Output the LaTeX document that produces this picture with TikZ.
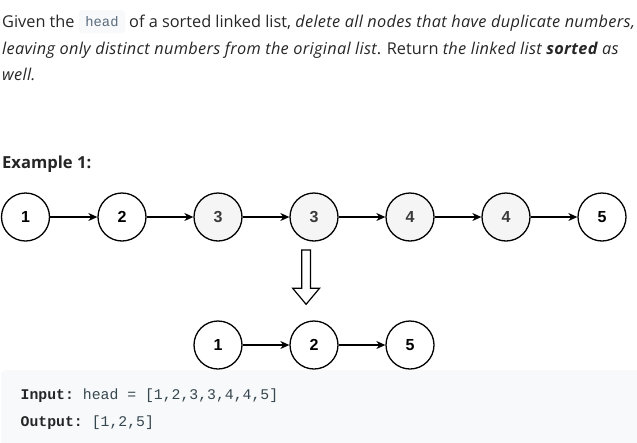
\documentclass[tikz,border=0pt]{standalone}
\usepackage{fontspec}
\setmainfont{Open Sans}[ItalicFeatures={LetterSpace=2}, BoldItalicFeatures={LetterSpace=2}]
\setmonofont{Liberation Mono}
\newfontfamily\numfont{Liberation Sans}
\usetikzlibrary{arrows.meta}
\definecolor{txtcol}{HTML}{262626}
\definecolor{codebg}{HTML}{F7F9FA}
\definecolor{headcol}{HTML}{5A6B7D}
\definecolor{codecol}{HTML}{37474F}
\definecolor{dupfill}{HTML}{F5F5F5}
\definecolor{dupnum}{HTML}{3A3A3A}

\tikzset{
  lnode/.style={draw, shape=circle, minimum size=48pt, inner sep=0pt, line width=1.3pt,
    font=\numfont\bfseries\fontsize{16}{16}\selectfont},
  dupnode/.style={lnode, fill=dupfill, text=dupnum},
  nxt/.style={-{Stealth[length=9pt,width=8pt]}, line width=1.2pt},
  para/.style={anchor=base west, inner sep=0pt, text=txtcol, font=\fontsize{16.3}{18}\selectfont},
  codeline/.style={anchor=base west, inner sep=0pt, text=codecol, font=\ttfamily\fontsize{14.8}{18}\selectfont}
}

\begin{document}
\begin{tikzpicture}[x=1pt, y=-1pt]
    \useasboundingbox (0,0) rectangle (637,442);
    % problem text
    \node(given)[para] at (2,27) {Given the};
    \node(headcode)[fill=codebg, rounded corners=3pt, minimum width=46pt, minimum height=23pt,
        inner sep=0pt, text=headcol, font=\ttfamily\fontsize{13.8}{14}\selectfont] at (102,21.5) {head};
    \node(line1)[para] at (129,27) {of a sorted linked list, \textit{delete all nodes that have duplicate numbers,}};
    \node(line2)[para] at (2,54) {\textit{leaving only distinct numbers from the original list}. Return \textit{the linked list \textbf{sorted} as}};
    \node(line3)[para] at (2,80) {\textit{well.}};
    \node(example)[para, font=\bfseries\fontsize{16.6}{18}\selectfont] at (2,168) {Example 1:};
    % input list
    \node(a1)[lnode] at (25.5,217) {1};
    \node(a2)[lnode] at (122,217) {2};
    \node(a3)[dupnode] at (218,217) {3};
    \node(a4)[dupnode] at (314,217) {3};
    \node(a5)[dupnode] at (410,217) {4};
    \node(a6)[dupnode] at (506,217) {4};
    \node(a7)[lnode] at (602,217) {5};
    \draw[nxt] (a1) -- (a2);
    \draw[nxt] (a2) -- (a3);
    \draw[nxt] (a3) -- (a4);
    \draw[nxt] (a4) -- (a5);
    \draw[nxt] (a5) -- (a6);
    \draw[nxt] (a6) -- (a7);
    % hollow arrow
    \draw[line width=1.2pt, line join=miter, fill=white] (301.8,250) -- (310.4,250) -- (310.4,288.3) -- (319.5,288.3)
        -- (306.1,304.3) -- (292.7,288.3) -- (301.8,288.3) -- cycle;
    % result list
    \node(b1)[lnode] at (218,345) {1};
    \node(b2)[lnode] at (314,345) {2};
    \node(b3)[lnode] at (410,345) {5};
    \draw[nxt] (b1) -- (b2);
    \draw[nxt] (b2) -- (b3);
    % example block
    \fill[codebg, rounded corners=5pt] (1,370) rectangle (645,450);
    \node(input)[codeline] at (20.5,399) {\textbf{\color{txtcol}Input:} head = [1,2,3,3,4,4,5]};
    \node(output)[codeline] at (20.5,426) {\textbf{\color{txtcol}Output:} [1,2,5]};
\end{tikzpicture}
\end{document}
